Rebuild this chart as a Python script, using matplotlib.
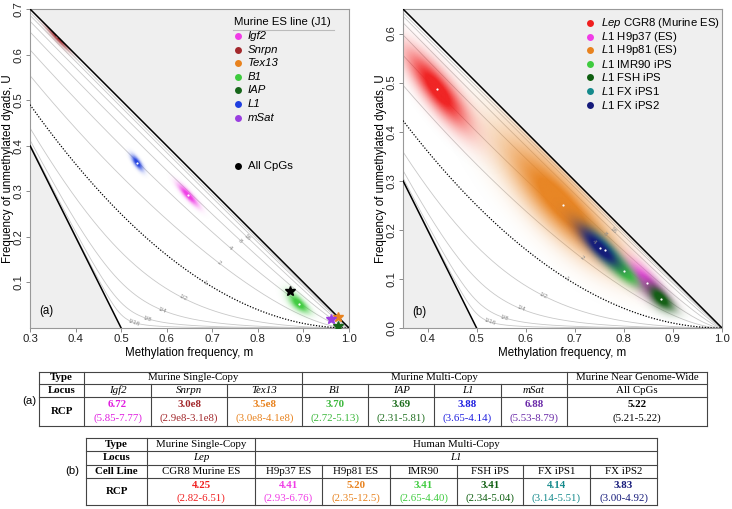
import numpy as np
import matplotlib
matplotlib.use("Agg")
import matplotlib.pyplot as plt
from matplotlib.colors import to_rgb
from matplotlib.ticker import FormatStrFormatter

plt.rcParams['font.family'] = ['Liberation Sans', 'DejaVu Sans']
plt.rcParams['mathtext.fontset'] = 'custom'
plt.rcParams['mathtext.it'] = 'Liberation Sans:italic'
plt.rcParams['mathtext.rm'] = 'Liberation Sans'

# RCP iso-lines drawn in both panels
levels = [1/16, 1/8, 1/4, 1/2, 1, 2, 4, 8, 16, 32, 64]
level_txt = ['1/16', '1/8', '1/4', '1/2', '1', '2', '4', '8', '16']
label_m = [0.527, 0.557, 0.59, 0.636, 0.683, 0.714, 0.739, 0.762, 0.777]

# (a) murine ES line (J1)
a_loci = ['Igf2', 'Snrpn', 'Tex13', 'B1', 'IAP', 'L1', 'mSat']
a_colors = ['#f03ce6', '#a3282c', '#e8821e', '#3ecb3e', '#17661a', '#1f3fe0', '#9a3ee0']
a_m = [0.647, 0.36, 0.975, 0.89, 0.975, 0.535, 0.96]
a_rcp = [6.72, 3.0e8, 3.5e8, 3.70, 3.69, 3.88, 6.88]
a_lo = [5.85, 2.9e8, 3.0e8, 2.72, 2.31, 3.65, 5.53]
a_hi = [7.77, 3.1e8, 4.1e8, 5.13, 5.81, 4.14, 8.79]
a_msd = [0.012, 0.014, 0.0, 0.013, 0.0, 0.007, 0.0]   # 0 -> tight, drawn as a star
allcpg_m = 0.87
allcpg_rcp = 5.22
a_rcp_txt = ['6.72', '3.0e8', '3.5e8', '3.70', '3.69', '3.88', '6.88', '5.22']
a_ci_txt = ['(5.85-7.77)', '(2.9e8-3.1e8)', '(3.0e8-4.1e8)', '(2.72-5.13)',
            '(2.31-5.81)', '(3.65-4.14)', '(5.53-8.79)', '(5.21-5.22)']
a_tab_colors = ['#e01ee0', '#a3282c', '#e8821e', '#3cb83c', '#1e6e1e', '#2020e0', '#6a2aa8', '#000000']

# (b) human / murine cell lines
b_locus = ['Lep', 'L1', 'L1', 'L1', 'L1', 'L1', 'L1']
b_legend = ['CGR8 (Murine ES)', 'H9p37 (ES)', 'H9p81 (ES)', 'IMR90 iPS', 'FSH iPS', 'FX iPS1', 'FX iPS2']
b_cells = ['CGR8 Murine ES', 'H9p37 ES', 'H9p81 ES', 'IMR90', 'FSH iPS', 'FX iPS1', 'FX iPS2']
b_colors = ['#f01e1e', '#f03ce6', '#e8821e', '#3ecb3e', '#0e5e10', '#158a8c', '#151a7a']
b_m = [0.42, 0.848, 0.675, 0.80, 0.876, 0.762, 0.752]
b_rcp = [4.25, 4.41, 5.20, 3.41, 3.41, 4.14, 3.83]
b_lo = [2.82, 2.93, 2.35, 2.65, 2.34, 3.14, 3.00]
b_hi = [6.51, 6.76, 12.5, 4.40, 5.04, 5.51, 4.92]
b_msd = [0.035, 0.022, 0.07, 0.02, 0.016, 0.02, 0.025]
b_order = [2, 0, 1, 5, 3, 6, 4]
b_rcp_txt = ['4.25', '4.41', '5.20', '3.41', '3.41', '4.14', '3.83']
b_ci_txt = ['(2.82-6.51)', '(2.93-6.76)', '(2.35-12.5)', '(2.65-4.40)',
            '(2.34-5.04)', '(3.14-5.51)', '(3.00-4.92)']


def ufun(m, r):
    # U on the iso-RCP curve, RCP = sqrt(U*M)/(H/2)
    a = 1 - m
    A = 1 - r**2
    B = 1 - 2 * a * A
    C = -(r**2) * a**2
    D = 1 + 4 * a * m * (r**2 - 1)
    return 2 * C / (-B - np.sqrt(np.maximum(D, 0)))


def setup(ax, x0, y1, yt):
    ax.set_xlim(x0, 1)
    ax.set_ylim(0, y1)
    ax.set_facecolor('#efefef')
    mm = np.linspace(x0, 1, 600)
    ax.fill_between(mm, np.maximum(0, 1 - 2 * mm), 1 - mm, color='white', lw=0, zorder=0.5)
    for r in levels:
        uu = ufun(mm, r)
        if r == 1:
            ax.plot(mm, uu, color='k', ls=(0, (1, 1.3)), lw=0.9, zorder=3)
        else:
            ax.plot(mm, uu, color='#c8c8c8', lw=0.6, zorder=1)
    ax.plot(mm, 1 - mm, color='k', lw=1.1, zorder=4)
    m2 = mm[mm <= 0.5]
    ax.plot(m2, 1 - 2 * m2, color='k', lw=1.1, zorder=4)
    for r, t, lm in zip(levels, level_txt, label_m):
        p1 = ax.transData.transform((lm - 0.01, ufun(lm - 0.01, r)))
        p2 = ax.transData.transform((lm + 0.01, ufun(lm + 0.01, r)))
        ang = np.degrees(np.arctan2(p2[1] - p1[1], p2[0] - p1[0]))
        ax.text(lm, ufun(lm, r), t, rotation=ang, rotation_mode='anchor', ha='center',
                va='center', fontsize=4.5, color='#8a8a8a', zorder=3)
    ax.set_xticks(np.round(np.arange(np.ceil(x0 * 10) / 10, 1.001, 0.1), 1))
    ax.set_yticks(yt)
    ax.xaxis.set_major_formatter(FormatStrFormatter('%.1f'))
    ax.yaxis.set_major_formatter(FormatStrFormatter('%.1f'))
    ax.tick_params(labelsize=8.2, labelcolor='#222222', length=3, width=0.6, color='#777777', pad=1.5)
    for lab in ax.get_yticklabels():
        lab.set_rotation(90)
        lab.set_va('center')
    for s in ax.spines.values():
        s.set_color('#999999')
        s.set_linewidth(0.8)
    ax.set_xlabel('Methylation frequency, m', fontsize=8.3, labelpad=2)
    ax.set_ylabel('Frequency of unmethylated dyads, U', fontsize=8.3)
    ax.yaxis.set_label_coords(-0.05, 0.5)


def blob(ax, x0, y1, m0, r0, lo, hi, msd, color, z):
    mg, ug = np.meshgrid(np.linspace(x0, 1, 500), np.linspace(0, y1, 500))
    uc = ufun(mg, r0)
    su = np.maximum(np.abs(ufun(mg, hi) - ufun(mg, lo)) / 2.6, 0.006)
    d = np.exp(-0.5 * ((mg - m0) / msd)**2 - 0.5 * ((ug - uc) / su)**2)
    d[(ug > 1 - mg) | (ug < 1 - 2 * mg)] = 0
    img = np.zeros(mg.shape + (4,))
    img[..., :3] = to_rgb(color)
    img[..., 3] = np.clip(1.15 * d**0.7, 0, 0.97)
    ax.imshow(img, extent=(x0, 1, 0, y1), origin='lower', aspect='auto',
              interpolation='bilinear', zorder=z)
    ax.plot(m0, ufun(m0, r0), 'o', ms=1.6, color='white', mec='none', zorder=z + 0.5)


fig = plt.figure(figsize=(7.32, 5.09), dpi=100)
axa = fig.add_axes([30 / 732, 1 - 328 / 509, 319 / 732, 319 / 509])
axb = fig.add_axes([403 / 732, 1 - 328 / 509, 319 / 732, 319 / 509])

setup(axa, 0.3, 0.7, [0.1, 0.2, 0.3, 0.4, 0.5, 0.6, 0.7])
setup(axb, 0.35, 0.65, [0.0, 0.1, 0.2, 0.3, 0.4, 0.5, 0.6])

for i in range(len(a_loci)):
    if a_msd[i] > 0:
        blob(axa, 0.3, 0.7, a_m[i], a_rcp[i], a_lo[i], a_hi[i], a_msd[i], a_colors[i], 2 + i * 0.1)
    else:
        axa.plot(a_m[i], ufun(a_m[i], a_rcp[i]), marker='*', ms=7, color=a_colors[i], zorder=6)
axa.plot(allcpg_m, ufun(allcpg_m, allcpg_rcp), marker='*', ms=7, color='k', zorder=6)

for k, i in enumerate(b_order):
    blob(axb, 0.35, 0.65, b_m[i], b_rcp[i], b_lo[i], b_hi[i], b_msd[i], b_colors[i], 2 + k * 0.1)

axa.text(0.03, 0.045, '(a)', transform=axa.transAxes, fontsize=8.3, zorder=7)
axb.text(0.03, 0.04, '(b)', transform=axb.transAxes, fontsize=8.3, zorder=7)

# overlay in pixel coordinates for legends and tables
ov = fig.add_axes([0, 0, 1, 1], zorder=10)
ov.set_xlim(0, 732)
ov.set_ylim(509, 0)
ov.axis('off')

ov.text(234, 22, 'Murine ES line (J1)', fontsize=8.2, va='center')
ov.plot([233, 334], [29.5, 29.5], color='#bbbbbb', lw=0.8)
for i, name in enumerate(a_loci):
    y = 36 + i * 13.6
    ov.plot(238, y, 'o', ms=5, color=a_colors[i], mec='none')
    ov.text(248, y, name, fontsize=8.2, fontstyle='italic', va='center')
ov.plot(238, 166, 'o', ms=5, color='k', mec='none')
ov.text(248, 166, 'All CpGs', fontsize=8.2, va='center')

for i, name in enumerate(b_legend):
    y = 23 + i * 13.6
    ov.plot(590, y, 'o', ms=5, color=b_colors[i], mec='none')
    ov.text(601, y, r'$\mathit{' + b_locus[i] + '}$ ' + name, fontsize=8.2, va='center')

serif = ['Liberation Serif', 'DejaVu Serif']
tfs = 7.8
lc = '#444444'

# table (a)
ca = [39, 84, 151, 227, 302, 368, 434, 501, 567, 707]
ra = [372, 384, 397, 426]
for y in ra:
    ov.plot([ca[0], ca[-1]], [y, y], color=lc, lw=0.8)
for x in ca:
    top = ra[0] if x in (39, 84, 302, 567, 707) else ra[1]
    ov.plot([x, x], [top, ra[-1]], color=lc, lw=0.8)
cxa = [(ca[i] + ca[i + 1]) / 2 for i in range(len(ca) - 1)]
ov.text(cxa[0], 378, 'Type', family=serif, fontsize=tfs, weight='bold', ha='center', va='center')
ov.text(cxa[0], 390.5, 'Locus', family=serif, fontsize=tfs, weight='bold', ha='center', va='center')
ov.text(cxa[0], 411.5, 'RCP', family=serif, fontsize=tfs, weight='bold', ha='center', va='center')
ov.text((ca[1] + ca[4]) / 2, 378, 'Murine Single-Copy', family=serif, fontsize=tfs, ha='center', va='center')
ov.text((ca[4] + ca[8]) / 2, 378, 'Murine Multi-Copy', family=serif, fontsize=tfs, ha='center', va='center')
ov.text((ca[8] + ca[9]) / 2, 378, 'Murine Near Genome-Wide', family=serif, fontsize=tfs, ha='center', va='center')
for i in range(8):
    if i < 7:
        ov.text(cxa[i + 1], 390.5, a_loci[i], family=serif, fontsize=tfs, fontstyle='italic', ha='center', va='center')
    else:
        ov.text(cxa[i + 1], 390.5, 'All CpGs', family=serif, fontsize=tfs, ha='center', va='center')
    ov.text(cxa[i + 1], 404.5, a_rcp_txt[i], family=serif, fontsize=tfs, weight='bold',
            color=a_tab_colors[i], ha='center', va='center')
    ov.text(cxa[i + 1], 418.5, a_ci_txt[i], family=serif, fontsize=tfs,
            color=a_tab_colors[i], ha='center', va='center')
ov.text(29, 401, '(a)', fontsize=8.2, ha='center', va='center')

# table (b)
cb = [86, 147, 255, 322, 390, 457, 523, 590, 657]
rb = [438, 451, 465, 478, 505]
for y in rb:
    ov.plot([cb[0], cb[-1]], [y, y], color=lc, lw=0.8)
for x in cb:
    top = rb[0] if x in (86, 147, 255, 657) else rb[2]
    ov.plot([x, x], [top, rb[-1]], color=lc, lw=0.8)
cxb = [(cb[i] + cb[i + 1]) / 2 for i in range(len(cb) - 1)]
ov.text(cxb[0], 444.5, 'Type', family=serif, fontsize=tfs, weight='bold', ha='center', va='center')
ov.text(cxb[0], 458, 'Locus', family=serif, fontsize=tfs, weight='bold', ha='center', va='center')
ov.text(cxb[0], 471.5, 'Cell Line', family=serif, fontsize=tfs, weight='bold', ha='center', va='center')
ov.text(cxb[0], 491.5, 'RCP', family=serif, fontsize=tfs, weight='bold', ha='center', va='center')
ov.text(cxb[1], 444.5, 'Murine Single-Copy', family=serif, fontsize=tfs, ha='center', va='center')
ov.text((cb[2] + cb[-1]) / 2, 444.5, 'Human Multi-Copy', family=serif, fontsize=tfs, ha='center', va='center')
ov.text(cxb[1], 458, 'Lep', family=serif, fontsize=tfs, fontstyle='italic', ha='center', va='center')
ov.text((cb[2] + cb[-1]) / 2, 458, 'L1', family=serif, fontsize=tfs, fontstyle='italic', ha='center', va='center')
for i in range(7):
    ov.text(cxb[i + 1], 471.5, b_cells[i], family=serif, fontsize=tfs, ha='center', va='center')
    ov.text(cxb[i + 1], 485, b_rcp_txt[i], family=serif, fontsize=tfs, weight='bold',
            color=b_colors[i], ha='center', va='center')
    ov.text(cxb[i + 1], 498.5, b_ci_txt[i], family=serif, fontsize=tfs,
            color=b_colors[i], ha='center', va='center')
ov.text(72, 471.5, '(b)', fontsize=8.2, ha='center', va='center')

fig.savefig('out.png', dpi=100)
